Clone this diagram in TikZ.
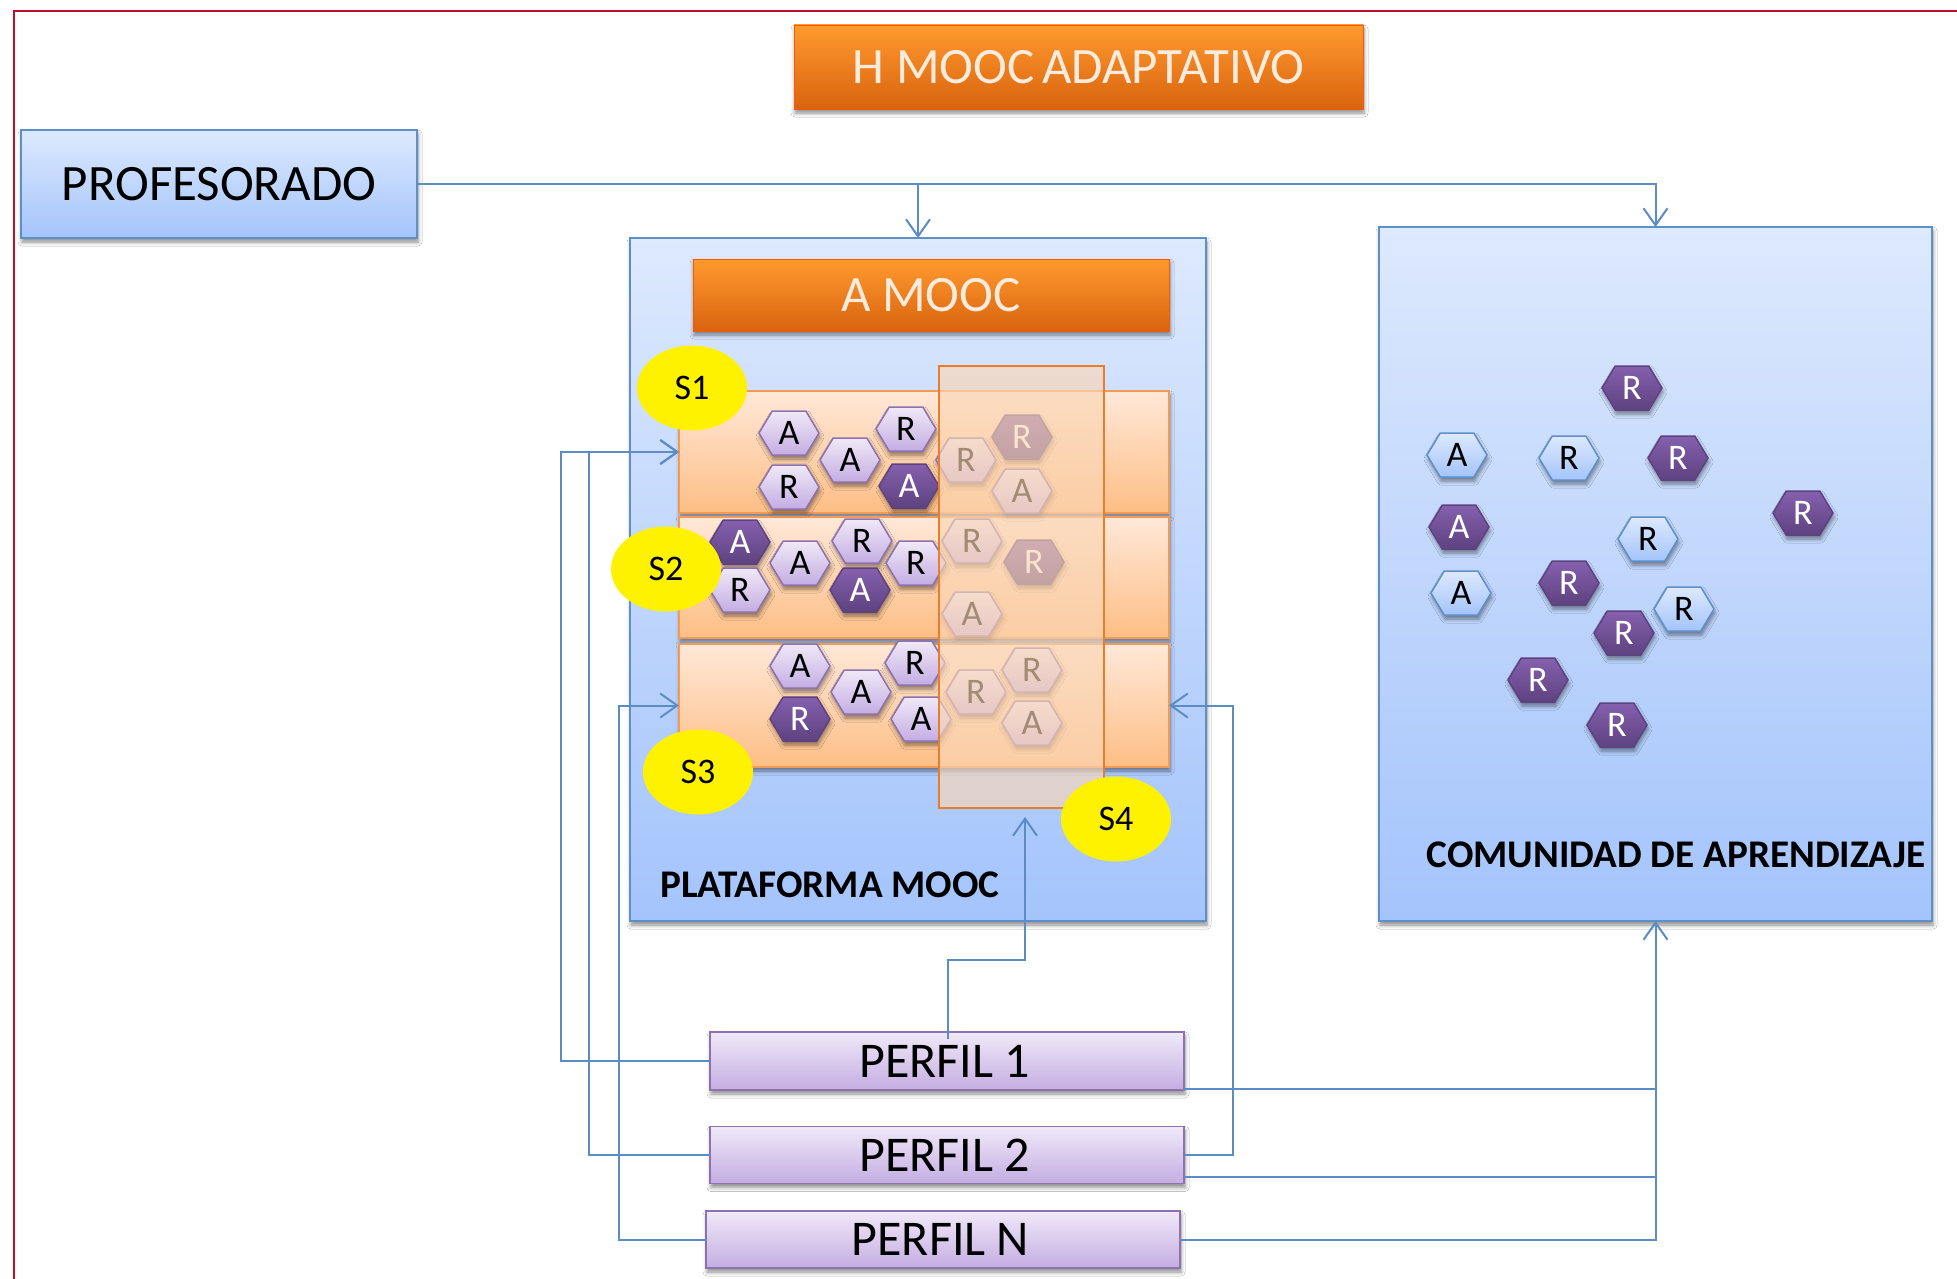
\documentclass[tikz,border=0pt]{standalone}
\usepackage{fontspec}
\setmainfont{Carlito}
\usetikzlibrary{arrows.meta,shadows,shadows.blur,shapes.symbols,shapes.geometric}
\definecolor{linecol}{HTML}{5B8CC4}
\definecolor{redline}{HTML}{C00D2E}
\tikzset{
  x=1pt,y=-1pt,
  every node/.style={inner sep=0pt,outer sep=0pt},
  sz/.style 2 args={minimum width=#1,minimum height=#2},
  softshadow/.style={blur shadow={shadow xshift=1pt,shadow yshift=-4pt,shadow blur radius=4pt,shadow opacity=45,shadow blur steps=5}},
  bluebox/.style={draw=#1,line width=1.6pt,top color=blueT,bottom color=blueB,softshadow},
  bluebox/.default=boxedge,
  orangebar/.style={draw=orange!70!red,line width=.8pt,top color=orT,bottom color=orB,text=orText,softshadow,font=\fontsize{51}{60}\selectfont},
  rowbox/.style={draw=rowedge,line width=1.8pt,top color=rowT,bottom color=rowB,softshadow},
  perfilbox/.style={draw=purpedge,line width=1.8pt,top color=purT,bottom color=purB,softshadow,font=\fontsize{50}{60}\selectfont},
  hexbase/.style={signal,signal to=west and east,signal pointer angle=118,minimum width=60pt,minimum height=44pt,line width=1.5pt,font=\fontsize{36}{40}\selectfont,softshadow},
  hexpurple/.style={hexbase,draw=purpedge,top color=purT,bottom color=purB},
  hexdark/.style={hexbase,draw=darkB,top color=darkT,bottom color=darkB,text=white},
  hexblue/.style={hexbase,draw=boxedge,top color=blueT,bottom color=blueB},
  stage/.style={ellipse,fill=yellow,minimum width=110pt,minimum height=85pt,font=\fontsize{36}{40}\selectfont},
  overlaybox/.style={draw=overEdge,line width=2pt,fill=overFill,fill opacity=.65},
  conn/.style={draw=linecol,line width=2pt},
  arr/.style={conn,-{Straight Barb[length=17pt,width=24pt,line width=2pt]}},
  boldlabel/.style={font=\fontsize{39.2}{44}\selectfont\bfseries},
}
\definecolor{boxedge}{HTML}{5F8FC8}
\definecolor{blueT}{HTML}{DDE9FD}
\definecolor{blueB}{HTML}{A4C4FC}
\definecolor{orT}{HTML}{FF9A2E}
\definecolor{orB}{HTML}{D9630F}
\definecolor{orText}{HTML}{FDEBDD}
\definecolor{rowedge}{HTML}{F39A55}
\definecolor{rowT}{HTML}{FFE8D8}
\definecolor{rowB}{HTML}{FDBE85}
\definecolor{purpedge}{HTML}{8E72B0}
\definecolor{purT}{HTML}{F0E9F8}
\definecolor{purB}{HTML}{C4ADE2}
\definecolor{darkT}{HTML}{8560AE}
\definecolor{darkB}{HTML}{5E4280}
\definecolor{overFill}{HTML}{FAD6B5}
\definecolor{overEdge}{HTML}{E87D2E}
\begin{document}
\begin{tikzpicture}
\path[use as bounding box,fill=white] (0,0) rectangle (1957,1279);
\draw[redline,line width=2.4pt] (14,1279) -- (14,11) -- (1957,11);

% top boxes
\node[orangebar,sz={569pt}{84pt}] (title) at (1078.5,67) {H MOOC\hspace{-4pt} ADAPTATIVO};
\node[bluebox,sz={396pt}{108pt},font=\fontsize{51}{60}\selectfont] (prof) at (219,184) {PROFESORADO};

% containers
\node[bluebox,sz={576pt}{683pt}] (plat) at (918,579.5) {};
\node[bluebox,sz={553pt}{694pt}] (comm) at (1655.5,574) {};
\node[orangebar,sz={476pt}{72pt}] (amooc) at (931,295) {A MOOC};
\node[boldlabel] (platlabel) at (830,885) {PLATAFORMA MOOC};
\node[boldlabel] (commlabel) at (1676,855) {COMUNIDAD DE APRENDIZAJE};

% rows
\node[rowbox,sz={490pt}{122pt}] (row1) at (924,452) {};
\node[rowbox,sz={490pt}{121pt}] (row2) at (924,577.5) {};
\node[rowbox,sz={490pt}{123pt}] (row3) at (924,705.5) {};

% row 1 hexagons
\node[hexpurple] (h1a) at (789,433) {A};
\node[hexpurple] (h1b) at (789,487) {R};
\node[hexpurple] (h1c) at (850,460) {A};
\node[hexpurple] (h1d) at (906,429) {R};
\node[hexdark]   (h1e) at (909,486) {A};
\node[hexpurple] (h1f) at (966,460) {R};
\node[hexdark]   (h1g) at (1022,437) {R};
\node[hexpurple] (h1h) at (1022,491) {A};
% row 2 hexagons
\node[hexdark]   (h2a) at (740,542) {A};
\node[hexpurple] (h2b) at (740,590) {R};
\node[hexpurple] (h2c) at (800,563) {A};
\node[hexpurple] (h2d) at (862,541) {R};
\node[hexdark]   (h2e) at (860,590) {A};
\node[hexpurple] (h2f) at (916,563) {R};
\node[hexpurple] (h2g) at (972,541) {R};
\node[hexdark]   (h2h) at (1034,562) {R};
\node[hexpurple] (h2i) at (972,614) {A};
% row 3 hexagons
\node[hexpurple] (h3a) at (800,666) {A};
\node[hexdark]   (h3b) at (800,719) {R};
\node[hexpurple] (h3c) at (861,692) {A};
\node[hexpurple] (h3d) at (915,663) {R};
\node[hexpurple] (h3e) at (921,719) {A};
\node[hexpurple] (h3f) at (976,692) {R};
\node[hexpurple] (h3g) at (1032,670) {R};
\node[hexpurple] (h3h) at (1032,723) {A};

% translucent column
\node[overlaybox,sz={165pt}{442pt}] (s4col) at (1021.5,587) {};

% stage ellipses
\node[stage] (s1) at (692,388) {S1};
\node[stage] (s2) at (666,569) {S2};
\node[stage] (s3) at (698,772) {S3};
\node[stage] (s4) at (1116,819) {S4};

% community hexagons
\node[hexdark] (c1)  at (1632,388) {R};
\node[hexblue] (c2)  at (1457,455) {A};
\node[hexblue] (c3)  at (1569,458) {R};
\node[hexdark] (c4)  at (1678,458) {R};
\node[hexdark] (c5)  at (1803,513) {R};
\node[hexdark] (c6)  at (1459,527) {A};
\node[hexblue] (c7)  at (1648,539) {R};
\node[hexblue] (c8)  at (1461,593) {A};
\node[hexdark] (c9)  at (1569,583) {R};
\node[hexblue] (c10) at (1684,609) {R};
\node[hexdark] (c11) at (1624,633) {R};
\node[hexdark] (c12) at (1538,680) {R};
\node[hexdark] (c13) at (1617,725) {R};

% profile boxes
\node[perfilbox,sz={474pt}{58pt}] (p1) at (947,1061) {\hspace{-5pt}PERFIL 1};
\node[perfilbox,sz={474pt}{57pt}] (p2) at (947,1155) {\hspace{-5pt}PERFIL 2};
\node[perfilbox,sz={474pt}{57pt}] (pn) at (943,1239.5) {\hspace{-5pt}PERFIL N};

% connector helpers
\coordinate (b1) at (561,452);
\coordinate (b2) at (589,452);
\coordinate (b3) at (619,705.5);
\coordinate (b4) at (1233,705.5);
\coordinate (p1top) at (948,1039);
\coordinate (k1) at (948,960);
\coordinate (k2) at (1025,960);
\coordinate (s4in) at (1025,817);
\coordinate (p1r) at (1184,1089);
\coordinate (p2r) at (1184,1177);

% connectors
\draw[arr] (prof.east) -| (comm.north);
\draw[arr] (prof.east -| plat.north) -- (plat.north);
\draw[arr] (p1.west) -| (b1) -- (row1.west);
\draw[arr] (p2.west) -| (b2) -- (row1.west);
\draw[arr] (pn.west) -| (b3) -- (row3.west);
\draw[arr] (p2.east) -| (b4) -- (row3.east);
\draw[arr] (p1top) -- (k1) -- (k2) -- (s4in);
\draw[conn] (p1r) -| (comm.south);
\draw[conn] (p2r) -| (comm.south);
\draw[arr] (pn.east) -| (comm.south);
\end{tikzpicture}
\end{document}
